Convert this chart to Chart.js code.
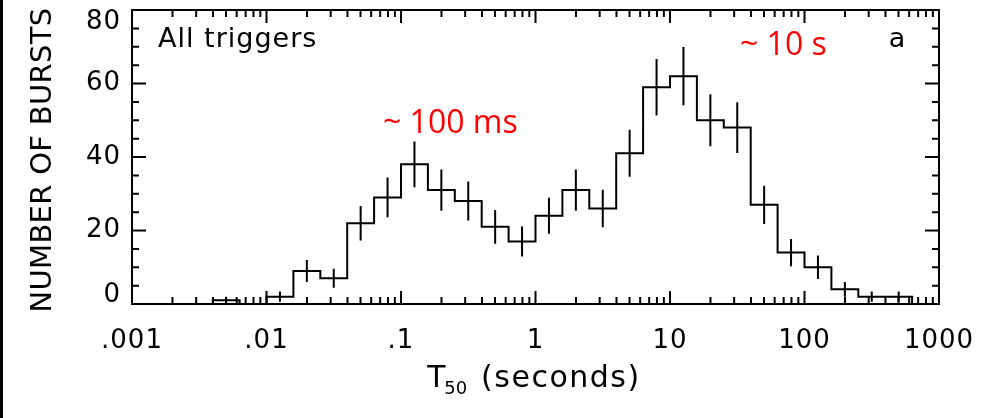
<!DOCTYPE html>
<html>
<head>
<meta charset="utf-8">
<script src="https://cdn.jsdelivr.net/npm/chart.js@4"></script>
<style>
html, body { margin: 0; padding: 0; background: #fff; }
#wrap { position: relative; width: 1003px; height: 418px; }
#edge { position: absolute; left: 0; top: 0; width: 3px; height: 418px; background: #000; }
</style>
</head>
<body>
<div id="wrap"><canvas id="c"></canvas><div id="edge"></div></div>
<script>
// log10 of the bin edges (seconds), bins are 0.2 dex wide
const binEdgesLog = [-2.4, -2.2, -2.0, -1.8, -1.6, -1.4, -1.2, -1.0, -0.8, -0.6, -0.4, -0.2, 0.0,
    0.2, 0.4, 0.6, 0.8, 1.0, 1.2, 1.4, 1.6, 1.8, 2.0, 2.2, 2.4, 2.6, 2.8];
const counts = [1, 0, 2, 9, 7, 22, 29, 38, 31, 28, 21, 17, 24, 31, 26, 41, 59, 62, 50, 48, 27, 14, 10, 4, 2, 2];
const errors = [1, 0, 1.4, 3, 2.6, 4.7, 5.4, 6.2, 5.6, 5.3, 4.6, 4.1, 4.9, 5.6, 5.1, 6.4, 7.7, 7.9, 7.1, 6.9, 5.2, 3.7, 3.2, 2, 1.4, 1.4];
const xTickValues = [0.001, 0.01, 0.1, 1, 10, 100, 1000];
const xTickLabels = ['.001', '.01', '.1', '1', '10', '100', '1000'];
const yTickValues = [0, 20, 40, 60, 80];
const yTickLabels = ['0', '20', '40', '60', '80'];

// histogram outline: corner points of every bin
const histPts = [{ x: Math.pow(10, binEdgesLog[0]), y: 0 }];
counts.forEach((n, i) => {
    histPts.push({ x: Math.pow(10, binEdgesLog[i]), y: n });
    histPts.push({ x: Math.pow(10, binEdgesLog[i + 1]), y: n });
});
histPts.push({ x: Math.pow(10, binEdgesLog[binEdgesLog.length - 1]), y: 0 });

// error bars: vertical segments at bin centres, split by gaps
const errPts = [];
counts.forEach((n, i) => {
    if (n <= 0) return;
    const c = Math.pow(10, (binEdgesLog[i] + binEdgesLog[i + 1]) / 2);
    errPts.push({ x: c, y: n - errors[i] }, { x: c, y: n + errors[i] }, { x: c, y: null });
});

const AXFONT = '"DejaVu Sans", sans-serif';

function txt(ctx, s, x, y, font, align, base, spacing, color) {
    ctx.save();
    ctx.font = font;
    ctx.textAlign = align;
    ctx.textBaseline = base;
    ctx.letterSpacing = spacing || '0px';
    ctx.fillStyle = color || '#000';
    ctx.fillText(s, x, y);
    ctx.restore();
}

const framePlugin = {
    id: 'frame',
    afterDraw(chart) {
        const { ctx, chartArea: a, scales: { x, y } } = chart;
        ctx.save();
        ctx.strokeStyle = '#000';
        ctx.lineWidth = 2;
        ctx.strokeRect(a.left, a.top, a.right - a.left, a.bottom - a.top);

        // x ticks, bottom and top, inward
        ctx.beginPath();
        for (let d = -3; d <= 3; d++) {
            for (let k = 1; k <= 9; k++) {
                if (d === 3 && k > 1) break;
                const px = x.getPixelForValue(k * Math.pow(10, d));
                const len = k === 1 ? 13 : 7;
                ctx.moveTo(px, a.bottom); ctx.lineTo(px, a.bottom - len);
                ctx.moveTo(px, a.top); ctx.lineTo(px, a.top + len);
            }
        }
        // y ticks, left and right, inward
        for (let v = 0; v <= 80; v += 5) {
            const py = y.getPixelForValue(v);
            const len = v % 20 === 0 ? 14 : 7;
            ctx.moveTo(a.left, py); ctx.lineTo(a.left + len, py);
            ctx.moveTo(a.right, py); ctx.lineTo(a.right - len, py);
        }
        ctx.stroke();
        ctx.restore();

        // tick labels
        xTickValues.forEach((v, i) => {
            txt(ctx, xTickLabels[i], x.getPixelForValue(v), 341, '26px ' + AXFONT, 'center', 'middle', '1px');
        });
        yTickValues.forEach((v, i) => {
            let py = y.getPixelForValue(v);
            if (v === y.min) py -= 9;
            if (v === y.max) py += 12;
            txt(ctx, yTickLabels[i], 121, py, '26px ' + AXFONT, 'right', 'middle', '1px');
        });

        // y title
        ctx.save();
        ctx.translate(43, (a.top + a.bottom) / 2 + 3);
        ctx.rotate(-Math.PI / 2);
        txt(ctx, 'NUMBER OF BURSTS', 0, 0, '29px ' + AXFONT, 'center', 'middle', '0.3px');
        ctx.restore();

        // x title with subscript
        ctx.save();
        ctx.letterSpacing = '1.5px';
        ctx.font = '30px ' + AXFONT;
        const wT = ctx.measureText('T').width;
        const wR = ctx.measureText(' (seconds)').width;
        ctx.font = '18px ' + AXFONT;
        const wS = ctx.measureText('50').width;
        ctx.restore();
        let tx = (a.left + a.right) / 2 - (wT + wS + wR) / 2;
        txt(ctx, 'T', tx, 387, '30px ' + AXFONT, 'left', 'alphabetic', '1.5px');
        txt(ctx, '50', tx + wT - 3, 394, '18px ' + AXFONT, 'left', 'alphabetic', '0px');
        txt(ctx, ' (seconds)', tx + wT + wS - 3, 387, '30px ' + AXFONT, 'left', 'alphabetic', '1.5px');

        // panel annotations
        txt(ctx, 'All triggers', 158, 47, '27px ' + AXFONT, 'left', 'alphabetic', '1px');
        txt(ctx, 'a', 897, 47, '27px ' + AXFONT, 'center', 'alphabetic', '0px');
        txt(ctx, '~ 100 ms', 383, 133, '32px "Open Sans", sans-serif', 'left', 'alphabetic', '0px', '#ff0000');
        txt(ctx, '~ 10 s', 740, 55, '32px "Open Sans", sans-serif', 'left', 'alphabetic', '0px', '#ff0000');
    }
};

new Chart(document.getElementById('c'), {
    type: 'line',
    data: {
        datasets: [
            { label: 'T50 histogram', data: histPts, borderColor: '#000', borderWidth: 2, pointRadius: 0, fill: false, tension: 0 },
            { label: 'errors', data: errPts, borderColor: '#000', borderWidth: 2, pointRadius: 0, fill: false, spanGaps: false, tension: 0 }
        ]
    },
    options: {
        responsive: true,
        maintainAspectRatio: false,
        devicePixelRatio: 1,
        animation: false,
        layout: { padding: { left: 132, top: 10, right: 64, bottom: 114 } },
        scales: {
            x: { type: 'logarithmic', min: 0.001, max: 1000, display: false },
            y: { type: 'linear', min: 0, max: 80, display: false }
        },
        plugins: { legend: { display: false }, tooltip: { enabled: false } },
        events: []
    },
    plugins: [framePlugin]
});
</script>
</body>
</html>
